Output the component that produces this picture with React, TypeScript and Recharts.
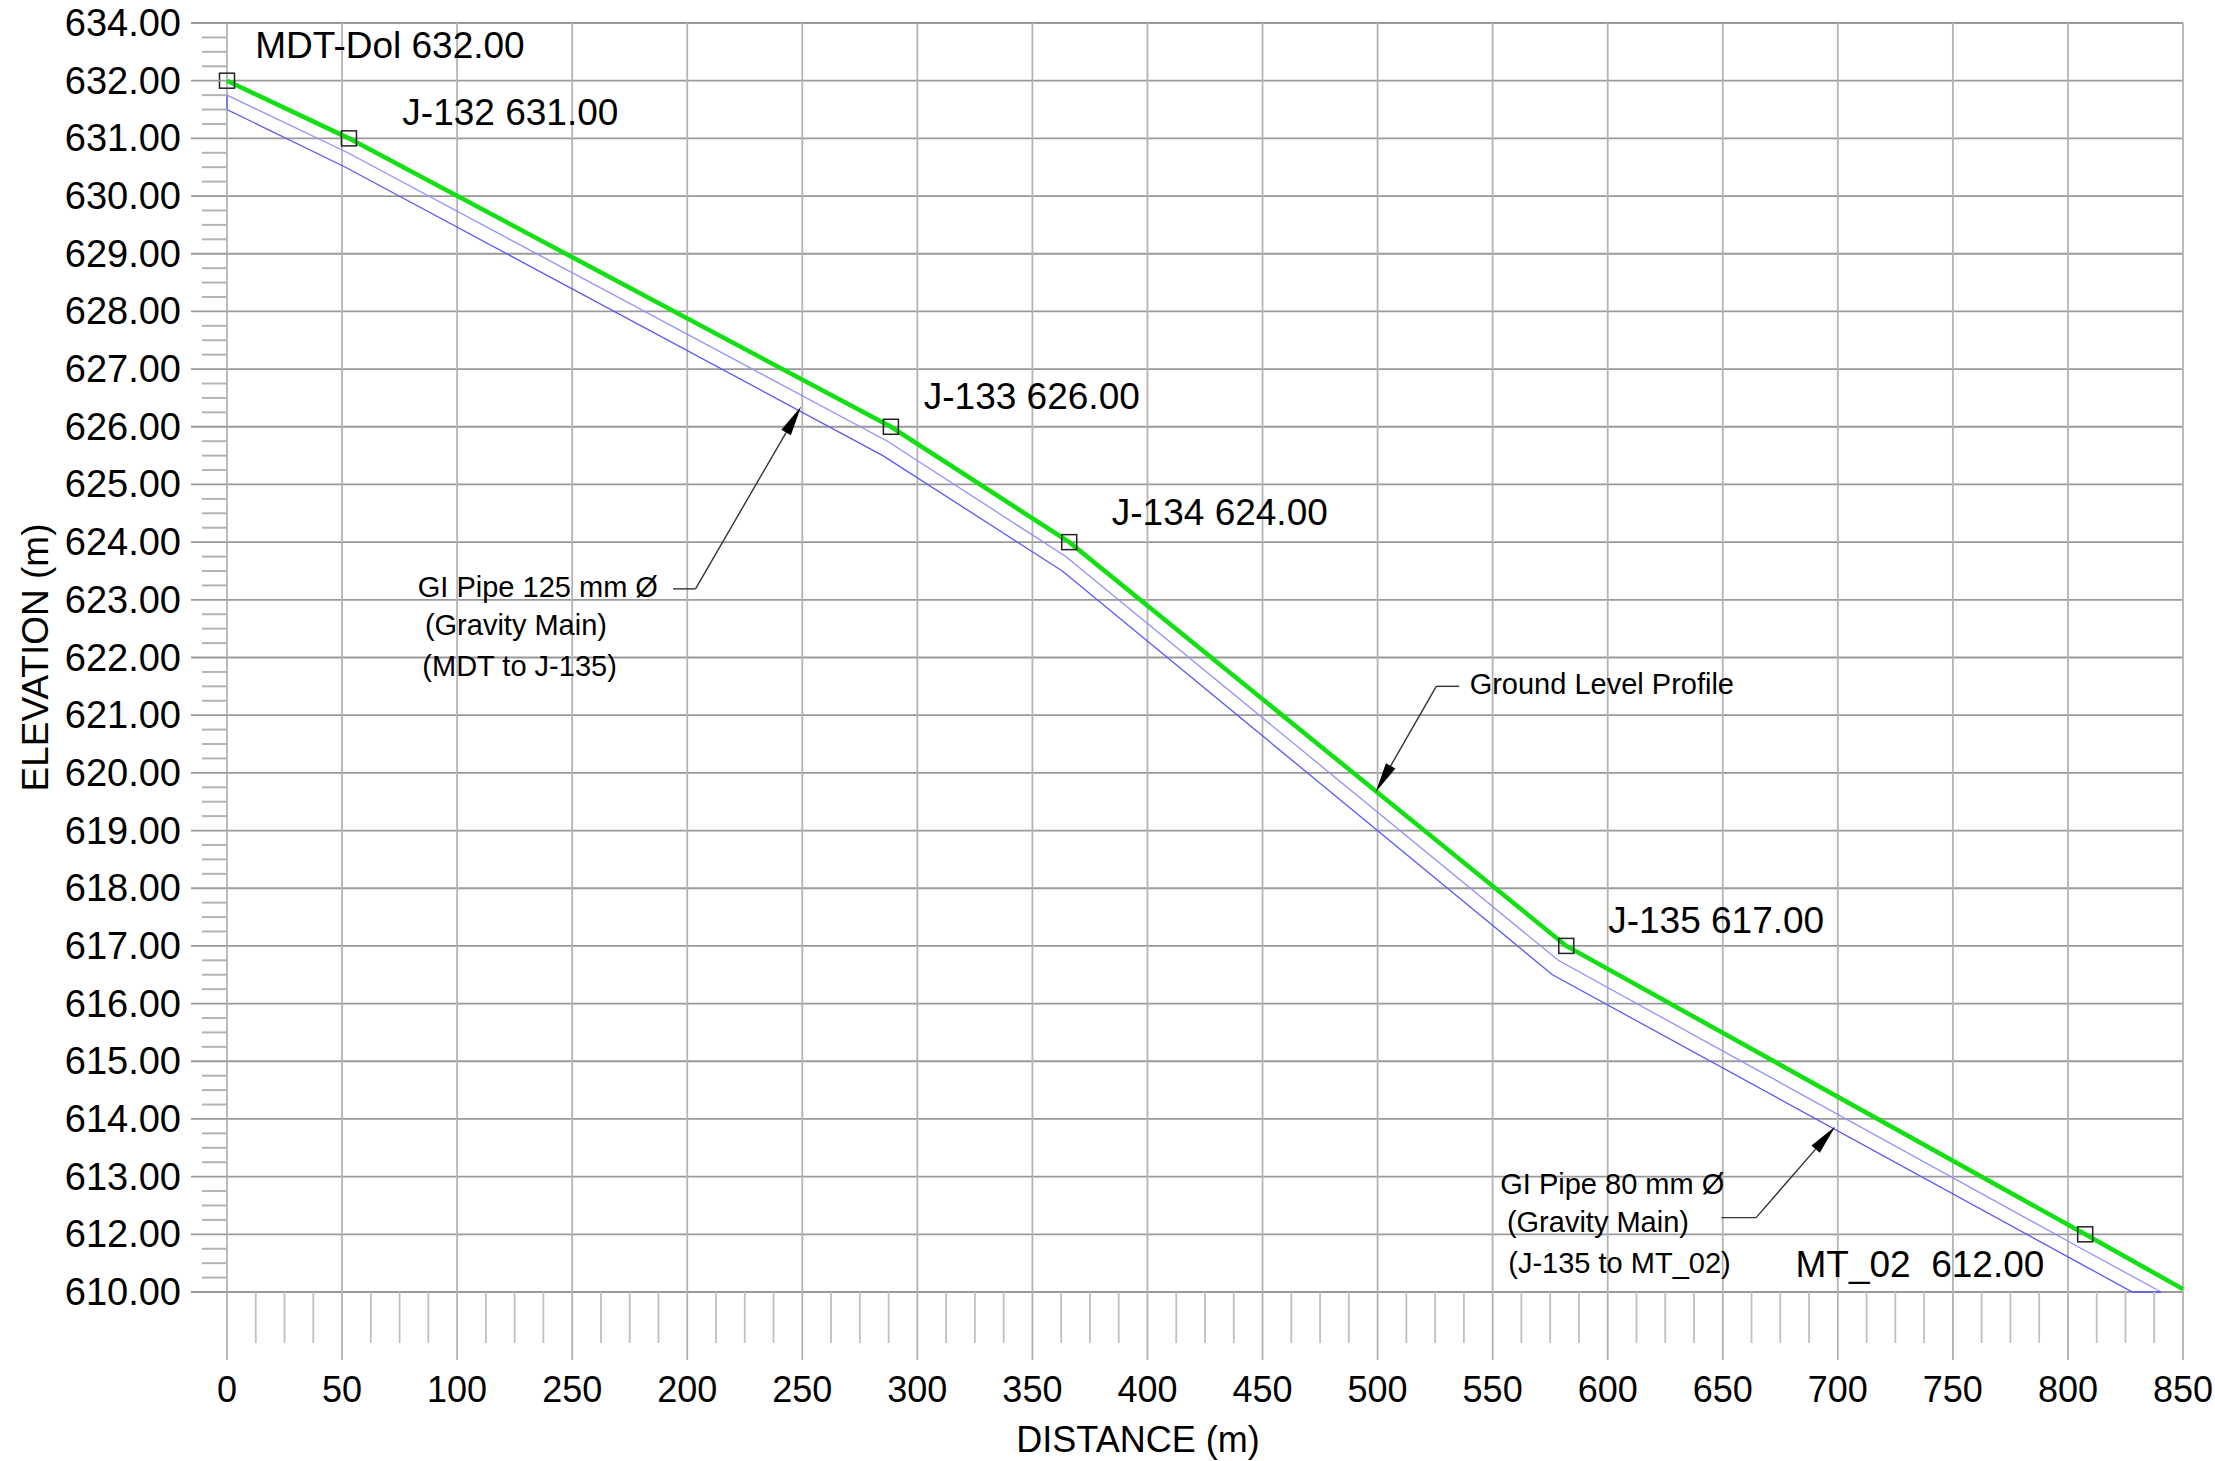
import { LineChart, Line, XAxis, YAxis, ReferenceLine, ReferenceDot, Label } from "recharts";

const FONT = "'Liberation Sans', Arial, sans-serif";

// x axis: distance (m)
const distanceTicks = [0, 50, 100, 150, 200, 250, 300, 350, 400, 450, 500, 550, 600, 650, 700, 750, 800, 850];
const distanceLabels = ["0", "50", "100", "250", "200", "250", "300", "350", "400", "450", "500", "550", "600", "650", "700", "750", "800", "850"];

// y axis: elevation (m) -- labels as printed on the drawing
const elevationTicks = [611, 612, 613, 614, 615, 616, 617, 618, 619, 620, 621, 622, 623, 624, 625, 626, 627, 628, 629, 630, 631, 632, 633];
const elevationLabels = [
  "610.00", "612.00", "613.00", "614.00", "615.00", "616.00", "617.00", "618.00", "619.00", "620.00", "621.00", "622.00",
  "623.00", "624.00", "625.00", "626.00", "627.00", "628.00", "629.00", "630.00", "631.00", "632.00", "634.00",
];

// minor tick subdivisions
const distanceMinor = Array.from({ length: 69 }, (_, i) => i * 12.5);
const elevationMinor = Array.from({ length: 89 }, (_, i) => 611 + i * 0.25);

// ground level profile
const groundDistance = [0, 53, 288.5, 366, 582, 807.5, 850];
const groundElevation = [632, 631, 626, 624, 617, 612, 611.05];
const junctionNames = ["MDT-Dol", "J-132", "J-133", "J-134", "J-135", "MT_02", ""];

// pipe outline (top and bottom edge)
const pipeTopDistance = [0, 52.5, 287, 364.5, 578.5, 806, 840.5];
const pipeTopElevation = [631.75, 630.75, 625.75, 623.75, 616.75, 611.75, 611];
const pipeBottomDistance = [0, 0, 51.5, 285, 363, 576, 805, 828, 840.5];
const pipeBottomElevation = [631.75, 631.5, 630.5, 625.5, 623.5, 616.5, 611.5, 611, 611];

const junctionLabels = [
  { text: "MDT-Dol 632.00", d: 12.3, e: 632.61 },
  { text: "J-132 631.00", d: 76.2, e: 631.45 },
  { text: "J-133 626.00", d: 302.8, e: 626.52 },
  { text: "J-134 624.00", d: 384.5, e: 624.51 },
  { text: "J-135 617.00", d: 600.2, e: 617.44 },
  { text: "MT_02  612.00", d: 681.6, e: 611.47 },
];

const noteTexts = [
  { text: "GI Pipe 125 mm Ø", d: 82.9, e: 623.22 },
  { text: "(Gravity Main)", d: 86.0, e: 622.56 },
  { text: "(MDT to J-135)", d: 84.9, e: 621.86 },
  { text: "Ground Level Profile", d: 540, e: 621.54 },
  { text: "GI Pipe 80 mm Ø", d: 553.3, e: 612.88 },
  { text: "(Gravity Main)", d: 556.2, e: 612.22 },
  { text: "(J-135 to MT_02)", d: 556.8, e: 611.5 },
];

// leader lines: [from, to, arrow at "to"]
const leaders = [
  { d1: 193.9, e1: 623.19, d2: 203.6, e2: 623.19, arrow: false },
  { d1: 203.6, e1: 623.19, d2: 249.5, e2: 626.35, arrow: true },
  { d1: 535.5, e1: 621.5, d2: 525.5, e2: 621.5, arrow: false },
  { d1: 525.5, e1: 621.5, d2: 499.2, e2: 619.67, arrow: true },
  { d1: 649.4, e1: 612.29, d2: 664.5, e2: 612.29, arrow: false },
  { d1: 664.5, e1: 612.29, d2: 698.9, e2: 613.87, arrow: true },
];

const ground = groundDistance.map((d, i) => ({ d, e: groundElevation[i], name: junctionNames[i] }));
const pipeTop = pipeTopDistance.map((d, i) => ({ d, e: pipeTopElevation[i] }));
const pipeBottom = pipeBottomDistance.map((d, i) => ({ d, e: pipeBottomElevation[i] }));

function ElevationTick(props: any) {
  const { x, y, payload } = props;
  const idx = elevationTicks.indexOf(payload.value);
  const major = idx >= 0;
  return (
    <g>
      <line x1={x - (major ? 36 : 25)} x2={x} y1={y} y2={y} stroke={major ? "#9a9a9a" : "#b4b4b4"} strokeWidth={major ? 1.8 : 2} />
      {major && (
        <text x={x - 46} y={y} textAnchor="end" dominantBaseline="central" fontFamily={FONT} fontSize={38} fill="#000">
          {elevationLabels[idx]}
        </text>
      )}
    </g>
  );
}

function DistanceTick(props: any) {
  const { x, y, payload } = props;
  const idx = distanceTicks.indexOf(payload.value);
  const major = idx >= 0;
  return (
    <g>
      <line x1={x} x2={x} y1={y} y2={y + (major ? 68 : 51)} stroke={major ? "#b0b0b0" : "#c0c0c0"} strokeWidth={1.8} />
      {major && (
        <text x={x} y={y + 97} textAnchor="middle" dominantBaseline="central" fontFamily={FONT} fontSize={36} fill="#000">
          {distanceLabels[idx]}
        </text>
      )}
    </g>
  );
}

function JunctionDot(props: any) {
  const { cx, cy, payload, index } = props;
  if (!payload.name) return <g key={index} />;
  return <rect key={index} x={cx - 7.5} y={cy - 7.5} width={15} height={15} fill="none" stroke="#222" strokeWidth={1.5} />;
}

function Leader(props: any, arrow: boolean) {
  const { x1, y1, x2, y2 } = props;
  if (!arrow) return <line x1={x1} y1={y1} x2={x2} y2={y2} stroke="#333" strokeWidth={1.4} />;
  const len = Math.hypot(x2 - x1, y2 - y1);
  const ux = (x2 - x1) / len;
  const uy = (y2 - y1) / len;
  const bx = x2 - ux * 30;
  const by = y2 - uy * 30;
  const nx = -uy * 5.5;
  const ny = ux * 5.5;
  return (
    <g>
      <line x1={x1} y1={y1} x2={bx} y2={by} stroke="#333" strokeWidth={1.4} />
      <polygon points={`${x2},${y2} ${bx + nx},${by + ny} ${bx - nx},${by - ny}`} fill="#000" />
    </g>
  );
}

export default function App() {
  return (
    <div style={{ position: "absolute", left: 0, top: 0, background: "#fff" }}>
      <LineChart width={2215} height={1461} margin={{ top: 23, right: 32, bottom: 0, left: 0 }}>
        <XAxis
          type="number"
          dataKey="d"
          domain={[0, 850]}
          ticks={distanceMinor}
          interval={0}
          height={169}
          tickSize={0}
          tickMargin={0}
          tickLine={false}
          axisLine={false}
          tick={<DistanceTick />}
        >
          <Label
            content={(p: any) => (
              <text x={p.viewBox.x + 911} y={1452} textAnchor="middle" fontFamily={FONT} fontSize={36} fill="#000">
                DISTANCE (m)
              </text>
            )}
          />
        </XAxis>
        <YAxis
          type="number"
          domain={[611, 633]}
          ticks={elevationMinor}
          interval={0}
          width={227}
          tickSize={0}
          tickMargin={0}
          tickLine={false}
          axisLine={false}
          tick={<ElevationTick />}
        >
          <Label
            content={(p: any) => (
              <text
                x={35}
                y={p.viewBox.y + p.viewBox.height / 2}
                transform={`rotate(-90, 35, ${p.viewBox.y + p.viewBox.height / 2})`}
                textAnchor="middle"
                dominantBaseline="central"
                fontFamily={FONT}
                fontSize={37}
                fill="#000"
              >
                ELEVATION (m)
              </text>
            )}
          />
        </YAxis>

        {elevationTicks.map((v) => (
          <ReferenceLine key={`h${v}`} y={v} stroke="#9a9a9a" strokeWidth={1.8} />
        ))}
        {distanceTicks.map((v) => (
          <ReferenceLine key={`v${v}`} x={v} stroke="#b4b4b4" strokeWidth={1.8} />
        ))}

        <Line data={pipeTop} dataKey="e" type="linear" stroke="#9090ff" strokeWidth={1.3} dot={false} isAnimationActive={false} />
        <Line data={pipeBottom} dataKey="e" type="linear" stroke="#5a5af5" strokeWidth={1.3} dot={false} isAnimationActive={false} />
        <Line data={ground} dataKey="e" type="linear" stroke="#12e012" strokeWidth={4.5} dot={JunctionDot} isAnimationActive={false} />

        {leaders.map((l, i) => (
          <ReferenceLine
            key={`l${i}`}
            segment={[{ x: l.d1, y: l.e1 }, { x: l.d2, y: l.e2 }]}
            ifOverflow="visible"
            shape={(p: any) => Leader(p, l.arrow)}
          />
        ))}

        {junctionLabels.map((n, i) => (
          <ReferenceDot
            key={`j${i}`}
            x={n.d}
            y={n.e}
            r={0}
            ifOverflow="visible"
            shape={(p: any) => (
              <text x={p.cx} y={p.cy} dominantBaseline="central" fontFamily={FONT} fontSize={37} fill="#000" style={{ whiteSpace: "pre" }}>
                {n.text}
              </text>
            )}
          />
        ))}
        {noteTexts.map((n, i) => (
          <ReferenceDot
            key={`n${i}`}
            x={n.d}
            y={n.e}
            r={0}
            ifOverflow="visible"
            shape={(p: any) => (
              <text x={p.cx} y={p.cy} dominantBaseline="central" fontFamily={FONT} fontSize={29} fill="#000">
                {n.text}
              </text>
            )}
          />
        ))}
      </LineChart>
    </div>
  );
}
